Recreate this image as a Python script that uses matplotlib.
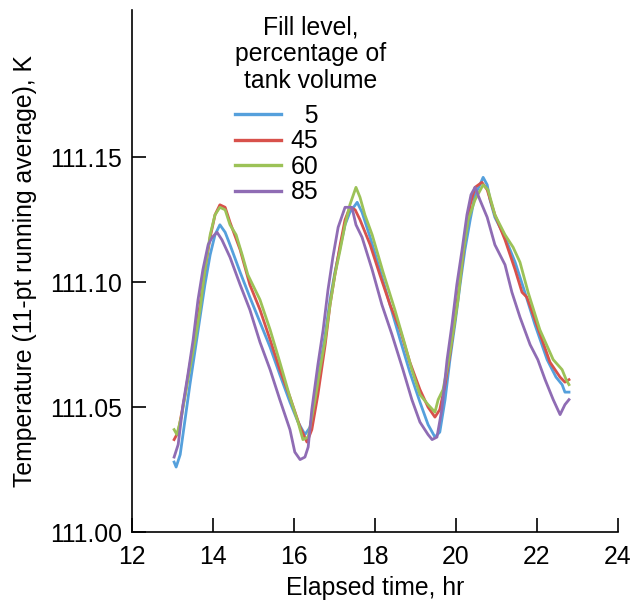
import numpy as np
import matplotlib.pyplot as plt

plt.rcParams['font.family'] = ['Liberation Sans', 'DejaVu Sans']

# fill level 5 %
t5 = [13.04, 13.09, 13.19, 13.31, 13.43, 13.56, 13.68, 13.80, 13.93, 14.05, 14.17, 14.30, 14.42,
      14.67, 14.91, 15.16, 15.41, 15.65, 15.90, 16.10, 16.27, 16.40, 16.52, 16.64, 16.77, 16.89,
      17.01, 17.14, 17.26, 17.38, 17.56, 17.68, 17.88, 18.12, 18.37, 18.62, 18.86, 19.11, 19.31,
      19.48, 19.60, 19.73, 19.85, 19.98, 20.10, 20.22, 20.35, 20.47, 20.59, 20.67, 20.77, 20.84,
      20.96, 21.21, 21.46, 21.70, 21.95, 22.25, 22.47, 22.62, 22.69, 22.79]
T5 = [111.028, 111.026, 111.031, 111.045, 111.059, 111.073, 111.086, 111.099, 111.111, 111.119,
      111.123, 111.120, 111.115, 111.104, 111.094, 111.084, 111.074, 111.063, 111.052, 111.044,
      111.039, 111.042, 111.053, 111.066, 111.079, 111.093, 111.104, 111.114, 111.123, 111.128,
      111.132, 111.128, 111.118, 111.105, 111.091, 111.077, 111.064, 111.052, 111.043, 111.038,
      111.040, 111.053, 111.069, 111.084, 111.099, 111.113, 111.125, 111.135, 111.139, 111.142,
      111.139, 111.133, 111.126, 111.118, 111.108, 111.096, 111.083, 111.069, 111.062, 111.059,
      111.056, 111.056]

# fill level 45 %
t45 = [13.04, 13.14, 13.31, 13.43, 13.56, 13.68, 13.80, 13.93, 14.05, 14.17, 14.30, 14.42, 14.67,
       14.91, 15.16, 15.41, 15.65, 15.90, 16.15, 16.32, 16.44, 16.59, 16.77, 16.89, 17.01, 17.14,
       17.26, 17.38, 17.51, 17.63, 17.88, 18.12, 18.37, 18.62, 18.86, 19.11, 19.31, 19.48, 19.60,
       19.73, 19.85, 19.98, 20.10, 20.22, 20.35, 20.47, 20.64, 20.77, 20.96, 21.21, 21.46, 21.63,
       21.75, 21.95, 22.32, 22.57, 22.69, 22.79]
T45 = [111.037, 111.040, 111.055, 111.067, 111.079, 111.091, 111.105, 111.118, 111.127, 111.131,
       111.130, 111.124, 111.113, 111.099, 111.089, 111.077, 111.065, 111.054, 111.042, 111.036,
       111.041, 111.055, 111.075, 111.091, 111.103, 111.115, 111.125, 111.130, 111.129, 111.125,
       111.115, 111.103, 111.091, 111.081, 111.068, 111.057, 111.050, 111.046, 111.049, 111.059,
       111.071, 111.086, 111.101, 111.117, 111.131, 111.138, 111.140, 111.137, 111.127, 111.117,
       111.105, 111.096, 111.094, 111.085, 111.068, 111.062, 111.060, 111.061]

# fill level 60 %
t60 = [13.04, 13.11, 13.23, 13.38, 13.56, 13.68, 13.80, 13.93, 14.05, 14.17, 14.30, 14.42, 14.57,
       14.72, 14.86, 15.04, 15.16, 15.41, 15.65, 15.90, 16.10, 16.22, 16.35, 16.52, 16.64, 16.77,
       16.89, 17.01, 17.14, 17.26, 17.38, 17.53, 17.63, 17.75, 17.93, 18.20, 18.49, 18.74, 18.91,
       19.11, 19.31, 19.48, 19.56, 19.68, 19.80, 19.90, 20.05, 20.17, 20.30, 20.47, 20.67, 20.79,
       20.96, 21.21, 21.41, 21.58, 21.78, 22.07, 22.40, 22.62, 22.72, 22.79]
T60 = [111.041, 111.039, 111.047, 111.061, 111.077, 111.089, 111.105, 111.119, 111.127, 111.130,
       111.129, 111.123, 111.119, 111.111, 111.103, 111.097, 111.093, 111.081, 111.068, 111.054,
       111.044, 111.037, 111.038, 111.053, 111.065, 111.077, 111.091, 111.103, 111.113, 111.123,
       111.131, 111.138, 111.134, 111.127, 111.119, 111.104, 111.089, 111.075, 111.065, 111.055,
       111.051, 111.048, 111.053, 111.057, 111.067, 111.077, 111.093, 111.111, 111.125, 111.133,
       111.139, 111.137, 111.127, 111.119, 111.114, 111.108, 111.096, 111.081, 111.069, 111.065,
       111.061, 111.059]

# fill level 85 %
t85 = [13.04, 13.14, 13.26, 13.38, 13.51, 13.63, 13.75, 13.88, 13.98, 14.10, 14.22, 14.42, 14.67,
       14.91, 15.16, 15.41, 15.65, 15.90, 16.02, 16.15, 16.27, 16.35, 16.44, 16.59, 16.72, 16.84,
       16.96, 17.09, 17.26, 17.43, 17.53, 17.68, 17.93, 18.17, 18.42, 18.69, 18.91, 19.11, 19.31,
       19.41, 19.53, 19.65, 19.78, 19.90, 20.02, 20.15, 20.27, 20.37, 20.47, 20.59, 20.77, 20.96,
       21.21, 21.38, 21.58, 21.83, 22.02, 22.20, 22.40, 22.57, 22.69, 22.79]
T85 = [111.030, 111.035, 111.051, 111.063, 111.077, 111.093, 111.105, 111.115, 111.118, 111.120,
       111.117, 111.110, 111.099, 111.089, 111.076, 111.065, 111.053, 111.041, 111.032, 111.029,
       111.030, 111.034, 111.049, 111.067, 111.081, 111.097, 111.110, 111.122, 111.130, 111.130,
       111.123, 111.118, 111.105, 111.091, 111.079, 111.065, 111.053, 111.044, 111.039, 111.037,
       111.038, 111.049, 111.069, 111.083, 111.099, 111.113, 111.127, 111.135, 111.138, 111.133,
       111.126, 111.115, 111.107, 111.096, 111.086, 111.075, 111.069, 111.061, 111.053, 111.047,
       111.051, 111.053]

labels = ['  5', '45', '60', '85']
colors = ['#55a0dc', '#d8514b', '#9cc257', '#8f6cb4']

x_ticks = [12, 14, 16, 18, 20, 22, 24]
y_ticks = [111.00, 111.05, 111.10, 111.15]

fs = 17.8

fig = plt.figure(figsize=(6.33, 6.01), dpi=100)
ax = fig.add_axes([132/633, 69/601, 486/633, 522/601])

for t, T, lab, c in zip([t5, t45, t60, t85], [T5, T45, T60, T85], labels, colors):
    ax.plot(t, T, color=c, lw=2.0, label=lab)

ax.set_xlim(12, 24)
ax.set_ylim(111.0, 111.209)
ax.set_xticks(x_ticks)
ax.set_yticks(y_ticks)
ax.set_yticklabels(['%.2f' % v for v in y_ticks])
ax.tick_params(direction='in', length=10, width=1.2, labelsize=fs)
ax.tick_params(axis='x', pad=9)
ax.tick_params(axis='y', pad=7)

for s in ['top', 'right']:
    ax.spines[s].set_visible(False)
for s in ['left', 'bottom']:
    ax.spines[s].set_linewidth(1.2)

ax.set_xlabel('Elapsed time, hr', fontsize=fs)
ax.set_ylabel('Temperature (11-pt running average), K', fontsize=fs)
ax.xaxis.set_label_coords(0.5, -0.084)
ax.yaxis.set_label_coords(-0.195, 0.5)

leg = ax.legend(title='Fill level,\npercentage of\ntank volume', frameon=False,
                loc='upper left', bbox_to_anchor=(235/633, 1 - 15/601),
                bbox_transform=fig.transFigure, borderpad=0, borderaxespad=0,
                fontsize=fs, title_fontsize=fs, handlelength=1.85,
                handletextpad=0.4, labelspacing=0.06, alignment='left')
leg.get_title().set_multialignment('center')
leg.get_title().set_linespacing(1.15)
leg._legend_box.sep = 8
for h in leg.legend_handles:
    h.set_linewidth(2.4)

fig.savefig('out.png', dpi=100)
